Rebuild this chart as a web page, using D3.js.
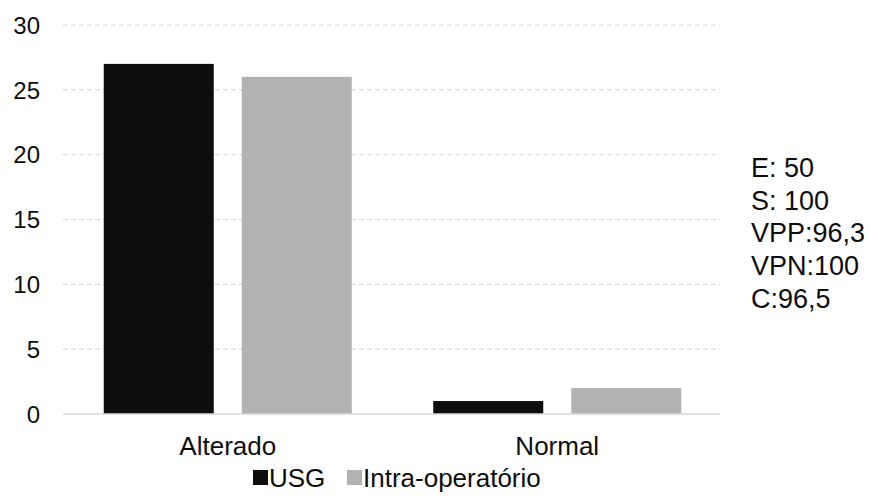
<!DOCTYPE html>
<html>
<head>
<meta charset="utf-8">
<script src="https://cdn.jsdelivr.net/npm/d3@7/dist/d3.min.js"></script>
<style>
  html, body { margin: 0; padding: 0; background: #fff; }
  svg { display: block; font-family: "Liberation Sans", Arial, sans-serif; }
</style>
</head>
<body>
<svg id="chart" width="870" height="496"></svg>
<script>
// Categories, series and values
const categories = ["Alterado", "Normal"];
const seriesNames = ["USG", "Intra-operatório"];
const usgValues = [27, 1];
const intraValues = [26, 2];
const yTicks = [0, 5, 10, 15, 20, 25, 30];
const statsLines = ["E: 50", "S: 100", "VPP:96,3", "VPN:100", "C:96,5"];
const seriesColors = ["#0d0d0d", "#b2b2b2"];

const rows = categories.map((c, i) => ({ category: c, values: [usgValues[i], intraValues[i]] }));

const svg = d3.select("#chart");
const tickFont = 24;
const labelFont = 26;
const statsFont = 27;
const textColor = "#0d0d0d";

const x0 = d3.scaleBand().domain(categories).range([63, 722]).paddingInner(0).paddingOuter(0);
const groupW = 248;
const bw0 = x0.bandwidth();
const x1 = d3.scaleBand().domain(seriesNames)
  .range([(bw0 - groupW) / 2, (bw0 + groupW) / 2])
  .paddingInner(0.2029).paddingOuter(0);
const y = d3.scaleLinear().domain([0, 30]).range([414, 25]);

// Horizontal gridlines (dashed), skipping the baseline
svg.append("g").selectAll("line")
  .data(yTicks.filter(t => t !== 0))
  .join("line")
  .attr("x1", 63).attr("x2", 720)
  .attr("y1", d => y(d)).attr("y2", d => y(d))
  .attr("stroke", "#d9d9d9").attr("stroke-width", 1.2)
  .attr("stroke-dasharray", "5,3");

// Y axis labels
const yAxis = d3.axisLeft(y).tickValues(yTicks).tickSize(0).tickPadding(0);
const yg = svg.append("g").attr("transform", "translate(40,0)").call(yAxis);
yg.select(".domain").remove();
yg.selectAll("text")
  .attr("font-size", tickFont).attr("fill", textColor)
  .attr("font-family", "Liberation Sans, Arial, sans-serif")
  .attr("dy", "0.34em");

// Bars
const groups = svg.append("g").selectAll("g")
  .data(rows).join("g")
  .attr("transform", d => `translate(${x0(d.category)},0)`);
groups.selectAll("rect")
  .data(d => d.values.map((v, i) => ({ name: seriesNames[i], value: v, idx: i })))
  .join("rect")
  .attr("x", d => x1(d.name))
  .attr("width", x1.bandwidth())
  .attr("y", d => y(d.value))
  .attr("height", d => y(0) - y(d.value))
  .attr("fill", d => seriesColors[d.idx]);

// Baseline
svg.append("line")
  .attr("x1", 63).attr("x2", 720)
  .attr("y1", y(0)).attr("y2", y(0))
  .attr("stroke", "#d9d9d9").attr("stroke-width", 1.5);

// Category labels
const xAxis = d3.axisBottom(x0).tickSize(0).tickPadding(0);
const xg = svg.append("g").attr("transform", "translate(0,455)").call(xAxis);
xg.select(".domain").remove();
xg.selectAll("text")
  .attr("font-size", labelFont).attr("fill", textColor)
  .attr("font-family", "Liberation Sans, Arial, sans-serif")
  .attr("dy", 0);

// Statistics block on the right
svg.append("g").selectAll("text")
  .data(statsLines).join("text")
  .attr("x", 751)
  .attr("y", (d, i) => 177 + i * 32.7)
  .attr("font-size", statsFont).attr("fill", textColor)
  .text(d => d);

// Legend
const legend = svg.append("g");
const legendItems = [
  { name: seriesNames[0], color: seriesColors[0], x: 253 },
  { name: seriesNames[1], color: seriesColors[1], x: 347 }
];
legendItems.forEach(item => {
  legend.append("rect")
    .attr("x", item.x).attr("y", 470)
    .attr("width", 15).attr("height", 15)
    .attr("fill", item.color);
  legend.append("text")
    .attr("x", item.x + 16).attr("y", 487)
    .attr("font-size", labelFont).attr("fill", textColor)
    .text(item.name);
});
</script>
</body>
</html>
